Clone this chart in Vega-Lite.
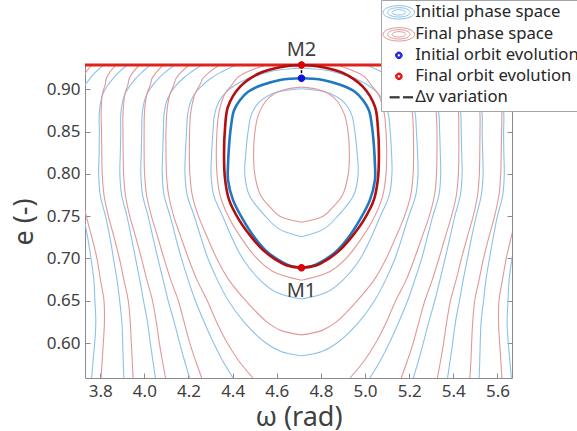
{
"$schema":"https://vega.github.io/schema/vega-lite/v6.json",
"width":427,"height":313,
"autosize":{"type":"none"},
"padding":{"left":85,"top":65,"right":65,"bottom":53},
"config":{"font":"Noto Sans","view":{"stroke":"#8a8a8a","strokeWidth":1},
"axis":{"grid":false,"domain":false,"labelFontSize":17,"titleFontSize":27,"titleFontWeight":"normal","labelColor":"#404040","titleColor":"#404040","tickColor":"#8a8a8a","tickSize":-5,"labelPadding":10},
"legend":{"labelFontSize":16.7,"labelColor":"#262626","labelLimit":400,"padding":4,"strokeColor":"#a6a6a6","fillColor":"#ffffff","symbolSize":200,"symbolOffset":5.5,"labelOffset":8,"rowPadding":3,"symbolStrokeWidth":1}},
"datasets":{
"bc":[
{"c":"b1L","w":3.761,"e":0.5587},{"c":"b1L","w":3.768,"e":0.58},{"c":"b1L","w":3.775,"e":0.6},{"c":"b1L","w":3.78,"e":0.625},{"c":"b1L","w":3.776,"e":0.65},{"c":"b1L","w":3.771,"e":0.675},{"c":"b1L","w":3.758,"e":0.7},{"c":"b1L","w":3.743,"e":0.725},{"c":"b1L","w":3.724,"e":0.75},{"c":"b1L","w":3.7,"e":0.775},{"c":"b1L","w":3.692,"e":0.8},{"c":"b1L","w":3.694,"e":0.825},{"c":"b1L","w":3.695,"e":0.85},{"c":"b1L","w":3.692,"e":0.87},{"c":"b1L","w":3.697,"e":0.885},{"c":"b1L","w":3.707,"e":0.895},{"c":"b1L","w":3.731,"e":0.905},{"c":"b1L","w":3.754,"e":0.913},{"c":"b1L","w":3.778,"e":0.92},{"c":"b1L","w":3.815,"e":0.9287},
{"c":"b1R","w":5.663,"e":0.5587},{"c":"b1R","w":5.656,"e":0.58},{"c":"b1R","w":5.649,"e":0.6},{"c":"b1R","w":5.644,"e":0.625},{"c":"b1R","w":5.648,"e":0.65},{"c":"b1R","w":5.653,"e":0.675},{"c":"b1R","w":5.666,"e":0.7},{"c":"b1R","w":5.681,"e":0.725},{"c":"b1R","w":5.7,"e":0.75},{"c":"b1R","w":5.724,"e":0.775},{"c":"b1R","w":5.732,"e":0.8},{"c":"b1R","w":5.73,"e":0.825},{"c":"b1R","w":5.729,"e":0.85},{"c":"b1R","w":5.732,"e":0.87},{"c":"b1R","w":5.727,"e":0.885},{"c":"b1R","w":5.717,"e":0.895},{"c":"b1R","w":5.693,"e":0.905},{"c":"b1R","w":5.671,"e":0.913},{"c":"b1R","w":5.647,"e":0.92},{"c":"b1R","w":5.609,"e":0.9287},
{"c":"b2L","w":3.907,"e":0.5587},{"c":"b2L","w":3.904,"e":0.58},{"c":"b2L","w":3.902,"e":0.6},{"c":"b2L","w":3.898,"e":0.625},{"c":"b2L","w":3.888,"e":0.65},{"c":"b2L","w":3.876,"e":0.675},{"c":"b2L","w":3.86,"e":0.7},{"c":"b2L","w":3.844,"e":0.725},{"c":"b2L","w":3.824,"e":0.75},{"c":"b2L","w":3.8,"e":0.775},{"c":"b2L","w":3.793,"e":0.8},{"c":"b2L","w":3.795,"e":0.825},{"c":"b2L","w":3.796,"e":0.85},{"c":"b2L","w":3.795,"e":0.87},{"c":"b2L","w":3.802,"e":0.885},{"c":"b2L","w":3.813,"e":0.895},{"c":"b2L","w":3.835,"e":0.905},{"c":"b2L","w":3.859,"e":0.913},{"c":"b2L","w":3.884,"e":0.92},{"c":"b2L","w":3.921,"e":0.9287},
{"c":"b2R","w":5.517,"e":0.5587},{"c":"b2R","w":5.52,"e":0.58},{"c":"b2R","w":5.522,"e":0.6},{"c":"b2R","w":5.526,"e":0.625},{"c":"b2R","w":5.537,"e":0.65},{"c":"b2R","w":5.548,"e":0.675},{"c":"b2R","w":5.564,"e":0.7},{"c":"b2R","w":5.581,"e":0.725},{"c":"b2R","w":5.6,"e":0.75},{"c":"b2R","w":5.624,"e":0.775},{"c":"b2R","w":5.631,"e":0.8},{"c":"b2R","w":5.629,"e":0.825},{"c":"b2R","w":5.628,"e":0.85},{"c":"b2R","w":5.629,"e":0.87},{"c":"b2R","w":5.622,"e":0.885},{"c":"b2R","w":5.611,"e":0.895},{"c":"b2R","w":5.589,"e":0.905},{"c":"b2R","w":5.565,"e":0.913},{"c":"b2R","w":5.54,"e":0.92},{"c":"b2R","w":5.503,"e":0.9287},
{"c":"b3L","w":4.05,"e":0.5587},{"c":"b3L","w":4.038,"e":0.58},{"c":"b3L","w":4.027,"e":0.6},{"c":"b3L","w":4.014,"e":0.625},{"c":"b3L","w":3.996,"e":0.65},{"c":"b3L","w":3.979,"e":0.675},{"c":"b3L","w":3.96,"e":0.7},{"c":"b3L","w":3.941,"e":0.725},{"c":"b3L","w":3.921,"e":0.75},{"c":"b3L","w":3.897,"e":0.775},{"c":"b3L","w":3.889,"e":0.8},{"c":"b3L","w":3.891,"e":0.825},{"c":"b3L","w":3.893,"e":0.85},{"c":"b3L","w":3.893,"e":0.87},{"c":"b3L","w":3.901,"e":0.885},{"c":"b3L","w":3.913,"e":0.895},{"c":"b3L","w":3.937,"e":0.905},{"c":"b3L","w":3.961,"e":0.913},{"c":"b3L","w":3.988,"e":0.92},{"c":"b3L","w":4.027,"e":0.9287},
{"c":"b3R","w":5.374,"e":0.5587},{"c":"b3R","w":5.386,"e":0.58},{"c":"b3R","w":5.397,"e":0.6},{"c":"b3R","w":5.41,"e":0.625},{"c":"b3R","w":5.428,"e":0.65},{"c":"b3R","w":5.445,"e":0.675},{"c":"b3R","w":5.464,"e":0.7},{"c":"b3R","w":5.483,"e":0.725},{"c":"b3R","w":5.504,"e":0.75},{"c":"b3R","w":5.527,"e":0.775},{"c":"b3R","w":5.535,"e":0.8},{"c":"b3R","w":5.533,"e":0.825},{"c":"b3R","w":5.531,"e":0.85},{"c":"b3R","w":5.531,"e":0.87},{"c":"b3R","w":5.523,"e":0.885},{"c":"b3R","w":5.511,"e":0.895},{"c":"b3R","w":5.487,"e":0.905},{"c":"b3R","w":5.463,"e":0.913},{"c":"b3R","w":5.436,"e":0.92},{"c":"b3R","w":5.397,"e":0.9287},
{"c":"b4L","w":4.205,"e":0.5587},{"c":"b4L","w":4.181,"e":0.58},{"c":"b4L","w":4.16,"e":0.6},{"c":"b4L","w":4.135,"e":0.625},{"c":"b4L","w":4.108,"e":0.65},{"c":"b4L","w":4.085,"e":0.675},{"c":"b4L","w":4.061,"e":0.7},{"c":"b4L","w":4.039,"e":0.725},{"c":"b4L","w":4.017,"e":0.75},{"c":"b4L","w":3.992,"e":0.775},{"c":"b4L","w":3.984,"e":0.8},{"c":"b4L","w":3.986,"e":0.825},{"c":"b4L","w":3.988,"e":0.85},{"c":"b4L","w":3.99,"e":0.87},{"c":"b4L","w":3.999,"e":0.885},{"c":"b4L","w":4.013,"e":0.895},{"c":"b4L","w":4.038,"e":0.905},{"c":"b4L","w":4.065,"e":0.913},{"c":"b4L","w":4.094,"e":0.92},{"c":"b4L","w":4.137,"e":0.9287},
{"c":"b4R","w":5.219,"e":0.5587},{"c":"b4R","w":5.243,"e":0.58},{"c":"b4R","w":5.264,"e":0.6},{"c":"b4R","w":5.289,"e":0.625},{"c":"b4R","w":5.316,"e":0.65},{"c":"b4R","w":5.34,"e":0.675},{"c":"b4R","w":5.363,"e":0.7},{"c":"b4R","w":5.385,"e":0.725},{"c":"b4R","w":5.407,"e":0.75},{"c":"b4R","w":5.432,"e":0.775},{"c":"b4R","w":5.44,"e":0.8},{"c":"b4R","w":5.438,"e":0.825},{"c":"b4R","w":5.436,"e":0.85},{"c":"b4R","w":5.434,"e":0.87},{"c":"b4R","w":5.425,"e":0.885},{"c":"b4R","w":5.411,"e":0.895},{"c":"b4R","w":5.386,"e":0.905},{"c":"b4R","w":5.359,"e":0.913},{"c":"b4R","w":5.33,"e":0.92},{"c":"b4R","w":5.287,"e":0.9287},
{"c":"b5L","w":4.402,"e":0.5587},{"c":"b5L","w":4.353,"e":0.58},{"c":"b5L","w":4.314,"e":0.6},{"c":"b5L","w":4.271,"e":0.625},{"c":"b5L","w":4.231,"e":0.65},{"c":"b5L","w":4.198,"e":0.675},{"c":"b5L","w":4.168,"e":0.7},{"c":"b5L","w":4.142,"e":0.725},{"c":"b5L","w":4.117,"e":0.75},{"c":"b5L","w":4.089,"e":0.775},{"c":"b5L","w":4.081,"e":0.8},{"c":"b5L","w":4.083,"e":0.825},{"c":"b5L","w":4.086,"e":0.85},{"c":"b5L","w":4.089,"e":0.87},{"c":"b5L","w":4.1,"e":0.885},{"c":"b5L","w":4.117,"e":0.895},{"c":"b5L","w":4.145,"e":0.905},{"c":"b5L","w":4.176,"e":0.913},{"c":"b5L","w":4.21,"e":0.92},{"c":"b5L","w":4.261,"e":0.9287},
{"c":"b5R","w":5.022,"e":0.5587},{"c":"b5R","w":5.071,"e":0.58},{"c":"b5R","w":5.11,"e":0.6},{"c":"b5R","w":5.153,"e":0.625},{"c":"b5R","w":5.193,"e":0.65},{"c":"b5R","w":5.226,"e":0.675},{"c":"b5R","w":5.257,"e":0.7},{"c":"b5R","w":5.282,"e":0.725},{"c":"b5R","w":5.307,"e":0.75},{"c":"b5R","w":5.335,"e":0.775},{"c":"b5R","w":5.343,"e":0.8},{"c":"b5R","w":5.341,"e":0.825},{"c":"b5R","w":5.338,"e":0.85},{"c":"b5R","w":5.335,"e":0.87},{"c":"b5R","w":5.324,"e":0.885},{"c":"b5R","w":5.308,"e":0.895},{"c":"b5R","w":5.279,"e":0.905},{"c":"b5R","w":5.248,"e":0.913},{"c":"b5R","w":5.214,"e":0.92},{"c":"b5R","w":5.163,"e":0.9287},
{"c":"b6L","w":4.712,"e":0.585},{"c":"b6L","w":4.619,"e":0.59},{"c":"b6L","w":4.551,"e":0.6},{"c":"b6L","w":4.451,"e":0.625},{"c":"b6L","w":4.381,"e":0.65},{"c":"b6L","w":4.33,"e":0.675},{"c":"b6L","w":4.288,"e":0.7},{"c":"b6L","w":4.256,"e":0.725},{"c":"b6L","w":4.226,"e":0.75},{"c":"b6L","w":4.194,"e":0.775},{"c":"b6L","w":4.184,"e":0.8},{"c":"b6L","w":4.186,"e":0.825},{"c":"b6L","w":4.191,"e":0.85},{"c":"b6L","w":4.196,"e":0.87},{"c":"b6L","w":4.209,"e":0.885},{"c":"b6L","w":4.229,"e":0.895},{"c":"b6L","w":4.264,"e":0.905},{"c":"b6L","w":4.302,"e":0.913},{"c":"b6L","w":4.346,"e":0.92},{"c":"b6L","w":4.416,"e":0.9287},
{"c":"b6R","w":4.712,"e":0.585},{"c":"b6R","w":4.805,"e":0.59},{"c":"b6R","w":4.873,"e":0.6},{"c":"b6R","w":4.973,"e":0.625},{"c":"b6R","w":5.043,"e":0.65},{"c":"b6R","w":5.094,"e":0.675},{"c":"b6R","w":5.136,"e":0.7},{"c":"b6R","w":5.168,"e":0.725},{"c":"b6R","w":5.198,"e":0.75},{"c":"b6R","w":5.23,"e":0.775},{"c":"b6R","w":5.24,"e":0.8},{"c":"b6R","w":5.238,"e":0.825},{"c":"b6R","w":5.233,"e":0.85},{"c":"b6R","w":5.228,"e":0.87},{"c":"b6R","w":5.215,"e":0.885},{"c":"b6R","w":5.195,"e":0.895},{"c":"b6R","w":5.16,"e":0.905},{"c":"b6R","w":5.122,"e":0.913},{"c":"b6R","w":5.078,"e":0.92},{"c":"b6R","w":5.008,"e":0.9287},
{"c":"b7L","w":4.712,"e":0.652},{"c":"b7L","w":4.598,"e":0.66},{"c":"b7L","w":4.522,"e":0.675},{"c":"b7L","w":4.445,"e":0.7},{"c":"b7L","w":4.396,"e":0.725},{"c":"b7L","w":4.355,"e":0.75},{"c":"b7L","w":4.314,"e":0.775},{"c":"b7L","w":4.302,"e":0.8},{"c":"b7L","w":4.305,"e":0.825},{"c":"b7L","w":4.311,"e":0.85},{"c":"b7L","w":4.318,"e":0.87},{"c":"b7L","w":4.337,"e":0.885},{"c":"b7L","w":4.364,"e":0.895},{"c":"b7L","w":4.412,"e":0.905},{"c":"b7L","w":4.472,"e":0.913},{"c":"b7L","w":4.556,"e":0.92},{"c":"b7L","w":4.616,"e":0.923},{"c":"b7L","w":4.712,"e":0.9248},
{"c":"b7R","w":4.712,"e":0.652},{"c":"b7R","w":4.826,"e":0.66},{"c":"b7R","w":4.902,"e":0.675},{"c":"b7R","w":4.979,"e":0.7},{"c":"b7R","w":5.028,"e":0.725},{"c":"b7R","w":5.069,"e":0.75},{"c":"b7R","w":5.11,"e":0.775},{"c":"b7R","w":5.122,"e":0.8},{"c":"b7R","w":5.12,"e":0.825},{"c":"b7R","w":5.114,"e":0.85},{"c":"b7R","w":5.106,"e":0.87},{"c":"b7R","w":5.087,"e":0.885},{"c":"b7R","w":5.06,"e":0.895},{"c":"b7R","w":5.012,"e":0.905},{"c":"b7R","w":4.952,"e":0.913},{"c":"b7R","w":4.868,"e":0.92},{"c":"b7R","w":4.808,"e":0.923},{"c":"b7R","w":4.712,"e":0.9248},
{"c":"b8L","w":4.712,"e":0.7256},{"c":"b8L","w":4.61,"e":0.735},{"c":"b8L","w":4.548,"e":0.75},{"c":"b8L","w":4.475,"e":0.775},{"c":"b8L","w":4.455,"e":0.8},{"c":"b8L","w":4.46,"e":0.825},{"c":"b8L","w":4.47,"e":0.85},{"c":"b8L","w":4.485,"e":0.87},{"c":"b8L","w":4.521,"e":0.885},{"c":"b8L","w":4.582,"e":0.895},{"c":"b8L","w":4.624,"e":0.898},{"c":"b8L","w":4.712,"e":0.9006},
{"c":"b8R","w":4.712,"e":0.7256},{"c":"b8R","w":4.814,"e":0.735},{"c":"b8R","w":4.876,"e":0.75},{"c":"b8R","w":4.949,"e":0.775},{"c":"b8R","w":4.969,"e":0.8},{"c":"b8R","w":4.964,"e":0.825},{"c":"b8R","w":4.954,"e":0.85},{"c":"b8R","w":4.939,"e":0.87},{"c":"b8R","w":4.903,"e":0.885},{"c":"b8R","w":4.842,"e":0.895},{"c":"b8R","w":4.8,"e":0.898},{"c":"b8R","w":4.712,"e":0.9006}
],
"rc":[
{"c":"r1L","w":3.804,"e":0.5587},{"c":"r1L","w":3.809,"e":0.58},{"c":"r1L","w":3.814,"e":0.6},{"c":"r1L","w":3.819,"e":0.625},{"c":"r1L","w":3.817,"e":0.65},{"c":"r1L","w":3.801,"e":0.675},{"c":"r1L","w":3.785,"e":0.7},{"c":"r1L","w":3.762,"e":0.725},{"c":"r1L","w":3.737,"e":0.75},{"c":"r1L","w":3.717,"e":0.775},{"c":"r1L","w":3.708,"e":0.8},{"c":"r1L","w":3.706,"e":0.825},{"c":"r1L","w":3.703,"e":0.85},{"c":"r1L","w":3.7,"e":0.87},{"c":"r1L","w":3.701,"e":0.885},{"c":"r1L","w":3.704,"e":0.895},{"c":"r1L","w":3.716,"e":0.905},{"c":"r1L","w":3.72,"e":0.913},{"c":"r1L","w":3.735,"e":0.92},{"c":"r1L","w":3.762,"e":0.9287},
{"c":"r1R","w":5.62,"e":0.5587},{"c":"r1R","w":5.615,"e":0.58},{"c":"r1R","w":5.61,"e":0.6},{"c":"r1R","w":5.605,"e":0.625},{"c":"r1R","w":5.607,"e":0.65},{"c":"r1R","w":5.623,"e":0.675},{"c":"r1R","w":5.64,"e":0.7},{"c":"r1R","w":5.662,"e":0.725},{"c":"r1R","w":5.687,"e":0.75},{"c":"r1R","w":5.707,"e":0.775},{"c":"r1R","w":5.716,"e":0.8},{"c":"r1R","w":5.718,"e":0.825},{"c":"r1R","w":5.721,"e":0.85},{"c":"r1R","w":5.724,"e":0.87},{"c":"r1R","w":5.723,"e":0.885},{"c":"r1R","w":5.72,"e":0.895},{"c":"r1R","w":5.709,"e":0.905},{"c":"r1R","w":5.704,"e":0.913},{"c":"r1R","w":5.689,"e":0.92},{"c":"r1R","w":5.663,"e":0.9287},
{"c":"r2L","w":3.949,"e":0.5587},{"c":"r2L","w":3.945,"e":0.58},{"c":"r2L","w":3.941,"e":0.6},{"c":"r2L","w":3.936,"e":0.625},{"c":"r2L","w":3.927,"e":0.65},{"c":"r2L","w":3.907,"e":0.675},{"c":"r2L","w":3.887,"e":0.7},{"c":"r2L","w":3.863,"e":0.725},{"c":"r2L","w":3.837,"e":0.75},{"c":"r2L","w":3.817,"e":0.775},{"c":"r2L","w":3.809,"e":0.8},{"c":"r2L","w":3.807,"e":0.825},{"c":"r2L","w":3.806,"e":0.85},{"c":"r2L","w":3.804,"e":0.87},{"c":"r2L","w":3.806,"e":0.885},{"c":"r2L","w":3.81,"e":0.895},{"c":"r2L","w":3.822,"e":0.905},{"c":"r2L","w":3.828,"e":0.913},{"c":"r2L","w":3.843,"e":0.92},{"c":"r2L","w":3.871,"e":0.9287},
{"c":"r2R","w":5.475,"e":0.5587},{"c":"r2R","w":5.48,"e":0.58},{"c":"r2R","w":5.483,"e":0.6},{"c":"r2R","w":5.488,"e":0.625},{"c":"r2R","w":5.497,"e":0.65},{"c":"r2R","w":5.517,"e":0.675},{"c":"r2R","w":5.537,"e":0.7},{"c":"r2R","w":5.561,"e":0.725},{"c":"r2R","w":5.587,"e":0.75},{"c":"r2R","w":5.607,"e":0.775},{"c":"r2R","w":5.615,"e":0.8},{"c":"r2R","w":5.617,"e":0.825},{"c":"r2R","w":5.619,"e":0.85},{"c":"r2R","w":5.62,"e":0.87},{"c":"r2R","w":5.618,"e":0.885},{"c":"r2R","w":5.614,"e":0.895},{"c":"r2R","w":5.602,"e":0.905},{"c":"r2R","w":5.596,"e":0.913},{"c":"r2R","w":5.581,"e":0.92},{"c":"r2R","w":5.553,"e":0.9287},
{"c":"r3L","w":4.096,"e":0.5587},{"c":"r3L","w":4.081,"e":0.58},{"c":"r3L","w":4.068,"e":0.6},{"c":"r3L","w":4.054,"e":0.625},{"c":"r3L","w":4.037,"e":0.65},{"c":"r3L","w":4.011,"e":0.675},{"c":"r3L","w":3.987,"e":0.7},{"c":"r3L","w":3.961,"e":0.725},{"c":"r3L","w":3.934,"e":0.75},{"c":"r3L","w":3.914,"e":0.775},{"c":"r3L","w":3.906,"e":0.8},{"c":"r3L","w":3.904,"e":0.825},{"c":"r3L","w":3.903,"e":0.85},{"c":"r3L","w":3.903,"e":0.87},{"c":"r3L","w":3.907,"e":0.885},{"c":"r3L","w":3.912,"e":0.895},{"c":"r3L","w":3.925,"e":0.905},{"c":"r3L","w":3.932,"e":0.913},{"c":"r3L","w":3.948,"e":0.92},{"c":"r3L","w":3.977,"e":0.9287},
{"c":"r3R","w":5.328,"e":0.5587},{"c":"r3R","w":5.343,"e":0.58},{"c":"r3R","w":5.356,"e":0.6},{"c":"r3R","w":5.37,"e":0.625},{"c":"r3R","w":5.387,"e":0.65},{"c":"r3R","w":5.413,"e":0.675},{"c":"r3R","w":5.437,"e":0.7},{"c":"r3R","w":5.463,"e":0.725},{"c":"r3R","w":5.49,"e":0.75},{"c":"r3R","w":5.51,"e":0.775},{"c":"r3R","w":5.518,"e":0.8},{"c":"r3R","w":5.52,"e":0.825},{"c":"r3R","w":5.521,"e":0.85},{"c":"r3R","w":5.521,"e":0.87},{"c":"r3R","w":5.517,"e":0.885},{"c":"r3R","w":5.512,"e":0.895},{"c":"r3R","w":5.5,"e":0.905},{"c":"r3R","w":5.492,"e":0.913},{"c":"r3R","w":5.476,"e":0.92},{"c":"r3R","w":5.447,"e":0.9287},
{"c":"r4L","w":4.26,"e":0.5587},{"c":"r4L","w":4.231,"e":0.58},{"c":"r4L","w":4.206,"e":0.6},{"c":"r4L","w":4.18,"e":0.625},{"c":"r4L","w":4.154,"e":0.65},{"c":"r4L","w":4.119,"e":0.675},{"c":"r4L","w":4.089,"e":0.7},{"c":"r4L","w":4.061,"e":0.725},{"c":"r4L","w":4.032,"e":0.75},{"c":"r4L","w":4.01,"e":0.775},{"c":"r4L","w":4.001,"e":0.8},{"c":"r4L","w":3.999,"e":0.825},{"c":"r4L","w":3.999,"e":0.85},{"c":"r4L","w":4.0,"e":0.87},{"c":"r4L","w":4.005,"e":0.885},{"c":"r4L","w":4.012,"e":0.895},{"c":"r4L","w":4.027,"e":0.905},{"c":"r4L","w":4.035,"e":0.913},{"c":"r4L","w":4.054,"e":0.92},{"c":"r4L","w":4.085,"e":0.9287},
{"c":"r4R","w":5.164,"e":0.5587},{"c":"r4R","w":5.193,"e":0.58},{"c":"r4R","w":5.218,"e":0.6},{"c":"r4R","w":5.244,"e":0.625},{"c":"r4R","w":5.271,"e":0.65},{"c":"r4R","w":5.305,"e":0.675},{"c":"r4R","w":5.335,"e":0.7},{"c":"r4R","w":5.363,"e":0.725},{"c":"r4R","w":5.392,"e":0.75},{"c":"r4R","w":5.414,"e":0.775},{"c":"r4R","w":5.423,"e":0.8},{"c":"r4R","w":5.425,"e":0.825},{"c":"r4R","w":5.425,"e":0.85},{"c":"r4R","w":5.424,"e":0.87},{"c":"r4R","w":5.419,"e":0.885},{"c":"r4R","w":5.412,"e":0.895},{"c":"r4R","w":5.398,"e":0.905},{"c":"r4R","w":5.389,"e":0.913},{"c":"r4R","w":5.37,"e":0.92},{"c":"r4R","w":5.339,"e":0.9287},
{"c":"r5L","w":4.492,"e":0.5587},{"c":"r5L","w":4.425,"e":0.58},{"c":"r5L","w":4.376,"e":0.6},{"c":"r5L","w":4.327,"e":0.625},{"c":"r5L","w":4.285,"e":0.65},{"c":"r5L","w":4.238,"e":0.675},{"c":"r5L","w":4.2,"e":0.7},{"c":"r5L","w":4.166,"e":0.725},{"c":"r5L","w":4.133,"e":0.75},{"c":"r5L","w":4.11,"e":0.775},{"c":"r5L","w":4.1,"e":0.8},{"c":"r5L","w":4.098,"e":0.825},{"c":"r5L","w":4.098,"e":0.85},{"c":"r5L","w":4.101,"e":0.87},{"c":"r5L","w":4.108,"e":0.885},{"c":"r5L","w":4.117,"e":0.895},{"c":"r5L","w":4.133,"e":0.905},{"c":"r5L","w":4.144,"e":0.913},{"c":"r5L","w":4.166,"e":0.92},{"c":"r5L","w":4.202,"e":0.9287},
{"c":"r5R","w":4.932,"e":0.5587},{"c":"r5R","w":4.999,"e":0.58},{"c":"r5R","w":5.048,"e":0.6},{"c":"r5R","w":5.097,"e":0.625},{"c":"r5R","w":5.139,"e":0.65},{"c":"r5R","w":5.187,"e":0.675},{"c":"r5R","w":5.224,"e":0.7},{"c":"r5R","w":5.258,"e":0.725},{"c":"r5R","w":5.291,"e":0.75},{"c":"r5R","w":5.315,"e":0.775},{"c":"r5R","w":5.324,"e":0.8},{"c":"r5R","w":5.326,"e":0.825},{"c":"r5R","w":5.326,"e":0.85},{"c":"r5R","w":5.323,"e":0.87},{"c":"r5R","w":5.316,"e":0.885},{"c":"r5R","w":5.308,"e":0.895},{"c":"r5R","w":5.291,"e":0.905},{"c":"r5R","w":5.28,"e":0.913},{"c":"r5R","w":5.258,"e":0.92},{"c":"r5R","w":5.222,"e":0.9287},
{"c":"r6L","w":4.712,"e":0.6097},{"c":"r6L","w":4.618,"e":0.615},{"c":"r6L","w":4.555,"e":0.625},{"c":"r6L","w":4.46,"e":0.65},{"c":"r6L","w":4.382,"e":0.675},{"c":"r6L","w":4.328,"e":0.7},{"c":"r6L","w":4.285,"e":0.725},{"c":"r6L","w":4.245,"e":0.75},{"c":"r6L","w":4.217,"e":0.775},{"c":"r6L","w":4.206,"e":0.8},{"c":"r6L","w":4.204,"e":0.825},{"c":"r6L","w":4.205,"e":0.85},{"c":"r6L","w":4.209,"e":0.87},{"c":"r6L","w":4.219,"e":0.885},{"c":"r6L","w":4.23,"e":0.895},{"c":"r6L","w":4.251,"e":0.905},{"c":"r6L","w":4.266,"e":0.913},{"c":"r6L","w":4.293,"e":0.92},{"c":"r6L","w":4.34,"e":0.9287},
{"c":"r6R","w":4.712,"e":0.6097},{"c":"r6R","w":4.806,"e":0.615},{"c":"r6R","w":4.87,"e":0.625},{"c":"r6R","w":4.964,"e":0.65},{"c":"r6R","w":5.042,"e":0.675},{"c":"r6R","w":5.096,"e":0.7},{"c":"r6R","w":5.139,"e":0.725},{"c":"r6R","w":5.179,"e":0.75},{"c":"r6R","w":5.207,"e":0.775},{"c":"r6R","w":5.218,"e":0.8},{"c":"r6R","w":5.22,"e":0.825},{"c":"r6R","w":5.219,"e":0.85},{"c":"r6R","w":5.215,"e":0.87},{"c":"r6R","w":5.205,"e":0.885},{"c":"r6R","w":5.194,"e":0.895},{"c":"r6R","w":5.173,"e":0.905},{"c":"r6R","w":5.158,"e":0.913},{"c":"r6R","w":5.131,"e":0.92},{"c":"r6R","w":5.084,"e":0.9287},
{"c":"r7L","w":4.712,"e":0.6742},{"c":"r7L","w":4.58,"e":0.685},{"c":"r7L","w":4.51,"e":0.7},{"c":"r7L","w":4.437,"e":0.725},{"c":"r7L","w":4.38,"e":0.75},{"c":"r7L","w":4.343,"e":0.775},{"c":"r7L","w":4.329,"e":0.8},{"c":"r7L","w":4.326,"e":0.825},{"c":"r7L","w":4.329,"e":0.85},{"c":"r7L","w":4.336,"e":0.87},{"c":"r7L","w":4.35,"e":0.885},{"c":"r7L","w":4.366,"e":0.895},{"c":"r7L","w":4.396,"e":0.905},{"c":"r7L","w":4.419,"e":0.913},{"c":"r7L","w":4.462,"e":0.92},{"c":"r7L","w":4.55,"e":0.9287},
{"c":"r7R","w":4.712,"e":0.6742},{"c":"r7R","w":4.844,"e":0.685},{"c":"r7R","w":4.914,"e":0.7},{"c":"r7R","w":4.987,"e":0.725},{"c":"r7R","w":5.044,"e":0.75},{"c":"r7R","w":5.081,"e":0.775},{"c":"r7R","w":5.095,"e":0.8},{"c":"r7R","w":5.098,"e":0.825},{"c":"r7R","w":5.095,"e":0.85},{"c":"r7R","w":5.088,"e":0.87},{"c":"r7R","w":5.074,"e":0.885},{"c":"r7R","w":5.058,"e":0.895},{"c":"r7R","w":5.028,"e":0.905},{"c":"r7R","w":5.005,"e":0.913},{"c":"r7R","w":4.962,"e":0.92},{"c":"r7R","w":4.874,"e":0.9287},
{"c":"r8L","w":4.712,"e":0.7429},{"c":"r8L","w":4.614,"e":0.75},{"c":"r8L","w":4.572,"e":0.76},{"c":"r8L","w":4.526,"e":0.775},{"c":"r8L","w":4.5,"e":0.8},{"c":"r8L","w":4.495,"e":0.825},{"c":"r8L","w":4.501,"e":0.85},{"c":"r8L","w":4.517,"e":0.87},{"c":"r8L","w":4.547,"e":0.885},{"c":"r8L","w":4.59,"e":0.895},{"c":"r8L","w":4.641,"e":0.9},{"c":"r8L","w":4.712,"e":0.9025},
{"c":"r8R","w":4.712,"e":0.7429},{"c":"r8R","w":4.81,"e":0.75},{"c":"r8R","w":4.852,"e":0.76},{"c":"r8R","w":4.898,"e":0.775},{"c":"r8R","w":4.924,"e":0.8},{"c":"r8R","w":4.929,"e":0.825},{"c":"r8R","w":4.923,"e":0.85},{"c":"r8R","w":4.907,"e":0.87},{"c":"r8R","w":4.877,"e":0.885},{"c":"r8R","w":4.834,"e":0.895},{"c":"r8R","w":4.783,"e":0.9},{"c":"r8R","w":4.712,"e":0.9025}
],
"ob":[
{"c":"L","w":4.712,"e":0.689},{"c":"L","w":4.664,"e":0.691},{"c":"L","w":4.629,"e":0.695},{"c":"L","w":4.556,"e":0.708},{"c":"L","w":4.502,"e":0.724},{"c":"L","w":4.447,"e":0.746},{"c":"L","w":4.402,"e":0.769},{"c":"L","w":4.379,"e":0.793},{"c":"L","w":4.379,"e":0.81},{"c":"L","w":4.384,"e":0.834},{"c":"L","w":4.393,"e":0.857},{"c":"L","w":4.406,"e":0.875},{"c":"L","w":4.433,"e":0.887},{"c":"L","w":4.47,"e":0.897},{"c":"L","w":4.533,"e":0.905},{"c":"L","w":4.615,"e":0.911},{"c":"L","w":4.664,"e":0.9125},{"c":"L","w":4.712,"e":0.913},
{"c":"R","w":4.712,"e":0.689},{"c":"R","w":4.76,"e":0.691},{"c":"R","w":4.795,"e":0.695},{"c":"R","w":4.868,"e":0.708},{"c":"R","w":4.922,"e":0.724},{"c":"R","w":4.977,"e":0.746},{"c":"R","w":5.022,"e":0.769},{"c":"R","w":5.045,"e":0.793},{"c":"R","w":5.045,"e":0.81},{"c":"R","w":5.04,"e":0.834},{"c":"R","w":5.031,"e":0.857},{"c":"R","w":5.018,"e":0.875},{"c":"R","w":4.991,"e":0.887},{"c":"R","w":4.954,"e":0.897},{"c":"R","w":4.891,"e":0.905},{"c":"R","w":4.809,"e":0.911},{"c":"R","w":4.76,"e":0.9125},{"c":"R","w":4.712,"e":0.913}
],
"or":[
{"c":"L","w":4.712,"e":0.689},{"c":"L","w":4.665,"e":0.6905},{"c":"L","w":4.624,"e":0.6943},{"c":"L","w":4.547,"e":0.7078},{"c":"L","w":4.488,"e":0.7244},{"c":"L","w":4.429,"e":0.7457},{"c":"L","w":4.384,"e":0.7693},{"c":"L","w":4.366,"e":0.7929},{"c":"L","w":4.361,"e":0.8204},{"c":"L","w":4.366,"e":0.8558},{"c":"L","w":4.379,"e":0.8794},{"c":"L","w":4.434,"e":0.9031},{"c":"L","w":4.524,"e":0.9193},{"c":"L","w":4.629,"e":0.9268},{"c":"L","w":4.662,"e":0.928},{"c":"L","w":4.712,"e":0.9287},
{"c":"R","w":4.712,"e":0.689},{"c":"R","w":4.759,"e":0.6905},{"c":"R","w":4.8,"e":0.6943},{"c":"R","w":4.877,"e":0.7078},{"c":"R","w":4.936,"e":0.7244},{"c":"R","w":4.995,"e":0.7457},{"c":"R","w":5.04,"e":0.7693},{"c":"R","w":5.058,"e":0.7929},{"c":"R","w":5.063,"e":0.8204},{"c":"R","w":5.058,"e":0.8558},{"c":"R","w":5.045,"e":0.8794},{"c":"R","w":4.99,"e":0.9031},{"c":"R","w":4.9,"e":0.9193},{"c":"R","w":4.795,"e":0.9268},{"c":"R","w":4.762,"e":0.928},{"c":"R","w":4.712,"e":0.9287}
],
"top":[{"e":0.9287}],
"dv":[{"w":4.712,"e":0.913,"e2":0.9287}],
"pts":[{"s":"Final orbit evolution","w":4.712,"e":0.689},{"s":"Initial orbit evolution","w":4.712,"e":0.913},{"s":"Final orbit evolution","w":4.712,"e":0.9287}],
"pr":[{"w":4.712,"e":0.689},{"w":4.712,"e":0.9287}],
"pb":[{"w":4.712,"e":0.913}],
"m2":[{"t":"M2","w":4.712,"e":0.9287}],
"m1":[{"t":"M1","w":4.712,"e":0.689}]
},
"layer":[
{"data":{"name":"bc"},"mark":{"type":"line","clip":true,"interpolate":"catmull-rom","color":"#8cc1e9","strokeWidth":1.1},
"encoding":{
"x":{"field":"w","type":"quantitative","scale":{"domain":[3.731,5.666],"nice":false,"zero":false},"axis":{"title":"ω (rad)","values":[3.8,4,4.2,4.4,4.6,4.8,5,5.2,5.4,5.6],"format":".1f","titlePadding":5}},
"y":{"field":"e","type":"quantitative","scale":{"domain":[0.5587,0.9287],"nice":false,"zero":false},"axis":{"title":"e (-)","values":[0.6,0.65,0.7,0.75,0.8,0.85,0.9],"format":".2f","titlePadding":8}},
"detail":{"field":"c"},"order":{"field":"e"}}},
{"data":{"name":"rc"},"mark":{"type":"line","clip":true,"interpolate":"catmull-rom","color":"#e29898","strokeWidth":1.1},
"encoding":{"x":{"field":"w","type":"quantitative"},"y":{"field":"e","type":"quantitative","axis":null},"detail":{"field":"c"},"order":{"field":"e"}}},
{"data":{"name":"top"},"mark":{"type":"rule","color":"#e3201b","strokeWidth":3},
"encoding":{"y":{"field":"e","type":"quantitative","axis":null}}},
{"data":{"name":"ob"},"mark":{"type":"line","interpolate":"catmull-rom","color":"#1f78c1","strokeWidth":2.6},
"encoding":{"x":{"field":"w","type":"quantitative"},"y":{"field":"e","type":"quantitative","axis":null},"detail":{"field":"c"},"order":{"field":"e"}}},
{"data":{"name":"or"},"mark":{"type":"line","interpolate":"catmull-rom","color":"#b30f0f","strokeWidth":2.6},
"encoding":{"x":{"field":"w","type":"quantitative"},"y":{"field":"e","type":"quantitative","axis":null},"detail":{"field":"c"},"order":{"field":"e"}}},
{"data":{"name":"dv"},"mark":{"type":"rule","color":"#000000","strokeWidth":1.5,"strokeDash":[3,2]},
"encoding":{"x":{"field":"w","type":"quantitative"},"y":{"field":"e","type":"quantitative","axis":null},"y2":{"field":"e2"}}},
{"data":{"name":"pts"},"mark":{"type":"point","filled":false,"strokeWidth":1,"size":200,"opacity":1},
"encoding":{"x":{"field":"w","type":"quantitative"},
"y":{"field":"e","type":"quantitative","axis":{"orient":"right","labels":false,"title":null,"values":[0.6,0.65,0.7,0.75,0.8,0.85,0.9],"tickSize":-5}},
"color":{"field":"s","type":"nominal","scale":{"domain":["Initial phase space","Final phase space","Initial orbit evolution","Final orbit evolution","Δv variation"],"range":["#8cc1e9","#e29898","#1010e0","#e00000","#000000"]},
"legend":{"title":null,"orient":"none","legendX":296,"legendY":-65}},
"shape":{"field":"s","type":"nominal","scale":{"domain":["Initial phase space","Final phase space","Initial orbit evolution","Final orbit evolution","Δv variation"],"range":["M-2.234,0A2.234,0.948,0,1,1,2.234,0A2.234,0.948,0,1,1,-2.234,0M-1.598,0A1.598,0.665,0,1,1,1.598,0A1.598,0.665,0,1,1,-1.598,0M-0.948,0A0.948,0.382,0,1,1,0.948,0A0.948,0.382,0,1,1,-0.948,0","M-2.234,0A2.234,0.948,0,1,1,2.234,0A2.234,0.948,0,1,1,-2.234,0M-1.598,0A1.598,0.665,0,1,1,1.598,0A1.598,0.665,0,1,1,-1.598,0M-0.948,0A0.948,0.382,0,1,1,0.948,0A0.948,0.382,0,1,1,-0.948,0","M-0.23,0A0.23,0.23,0,1,1,0.23,0A0.23,0.23,0,1,1,-0.23,0M-0.31,0A0.31,0.31,0,1,1,0.31,0A0.31,0.31,0,1,1,-0.31,0M-0.39,0A0.39,0.39,0,1,1,0.39,0A0.39,0.39,0,1,1,-0.39,0M-0.47,0A0.47,0.47,0,1,1,0.47,0A0.47,0.47,0,1,1,-0.47,0","M-0.23,0A0.23,0.23,0,1,1,0.23,0A0.23,0.23,0,1,1,-0.23,0M-0.31,0A0.31,0.31,0,1,1,0.31,0A0.31,0.31,0,1,1,-0.31,0M-0.39,0A0.39,0.39,0,1,1,0.39,0A0.39,0.39,0,1,1,-0.39,0M-0.47,0A0.47,0.47,0,1,1,0.47,0A0.47,0.47,0,1,1,-0.47,0","M-1.3,-0.07L0.11,-0.07M-1.3,0.07L0.11,0.07M0.59,-0.07L2.01,-0.07M0.59,0.07L2.01,0.07"]},
"legend":{"title":null,"orient":"none","legendX":296,"legendY":-65}}}},
{"data":{"name":"pr"},"mark":{"type":"circle","size":44,"color":"#e00000","opacity":1},
"encoding":{"x":{"field":"w","type":"quantitative"},"y":{"field":"e","type":"quantitative","axis":null}}},
{"data":{"name":"pb"},"mark":{"type":"circle","size":44,"color":"#1010e0","opacity":1},
"encoding":{"x":{"field":"w","type":"quantitative"},"y":{"field":"e","type":"quantitative","axis":null}}},
{"data":{"name":"m2"},"mark":{"type":"text","fontSize":20,"color":"#404040","baseline":"alphabetic","align":"center","dy":-9},
"encoding":{"x":{"field":"w","type":"quantitative"},"y":{"field":"e","type":"quantitative","axis":null},"text":{"field":"t"}}},
{"data":{"name":"m1"},"mark":{"type":"text","fontSize":20,"color":"#404040","baseline":"alphabetic","align":"center","dy":29},
"encoding":{"x":{"field":"w","type":"quantitative"},"y":{"field":"e","type":"quantitative","axis":null},"text":{"field":"t"}}}
],
"resolve":{"axis":{"y":"independent"}}
}
